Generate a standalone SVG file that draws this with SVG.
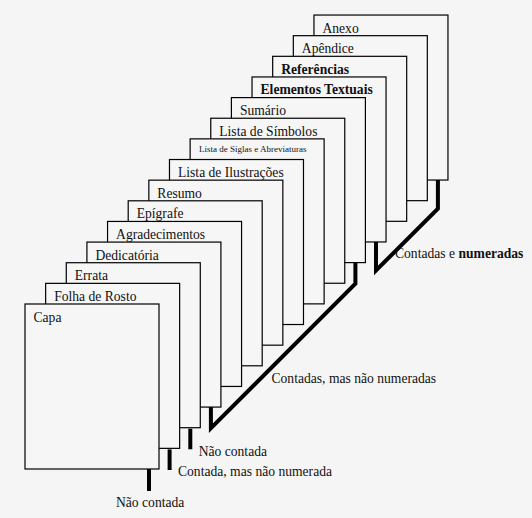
<svg xmlns="http://www.w3.org/2000/svg" width="532" height="518" viewBox="0 0 532 518" font-family="'Liberation Serif', 'DejaVu Serif', serif">
<style>
.pg rect{fill:#f6f6f6;stroke:#000;stroke-width:1.2}
text{font-family:'Liberation Serif','DejaVu Serif',serif;font-size:13.6px;fill:#111}
.b{font-weight:bold}
.sm{font-size:9px}
.th{fill:none;stroke:#000;stroke-width:4;stroke-linejoin:miter}
</style>
<rect width="532" height="518" fill="#f5f5f5"/>
<g id="pages">
<g id="anexo" class="pg" transform="translate(313.96,15.04)"><rect width="134" height="165"/><text x="8.5" y="17.5">Anexo</text></g>
<g id="apendice" class="pg" transform="translate(293.32,35.68)"><rect width="134" height="165"/><text x="8.5" y="17.5">Apêndice</text></g>
<g id="referencias" class="pg" transform="translate(272.68,56.32)"><rect width="134" height="165"/><text x="8.5" y="17.5" class="b">Referências</text></g>
<g id="elementos-textuais" class="pg" transform="translate(252.04,76.96)"><rect width="134" height="165"/><text x="8.5" y="17.5" class="b">Elementos Textuais</text></g>
<g id="sumario" class="pg" transform="translate(231.4,97.6)"><rect width="134" height="165"/><text x="8.5" y="17.5">Sumário</text></g>
<g id="lista-simbolos" class="pg" transform="translate(210.76,118.24)"><rect width="134" height="165"/><text x="8.5" y="17.5">Lista de Símbolos</text></g>
<g id="lista-siglas" class="pg" transform="translate(190.12,138.88)"><rect width="134" height="165"/><text x="9" y="13.5" class="sm">Lista de Siglas e Abreviaturas</text></g>
<g id="lista-ilustracoes" class="pg" transform="translate(169.48,159.52)"><rect width="134" height="165"/><text x="8.5" y="17.5">Lista de Ilustrações</text></g>
<g id="resumo" class="pg" transform="translate(148.84,180.16)"><rect width="134" height="165"/><text x="8.5" y="17.5">Resumo</text></g>
<g id="epigrafe" class="pg" transform="translate(128.2,200.8)"><rect width="134" height="165"/><text x="8.5" y="17.5">Epígrafe</text></g>
<g id="agradecimentos" class="pg" transform="translate(107.56,221.44)"><rect width="134" height="165"/><text x="8.5" y="17.5">Agradecimentos</text></g>
<g id="dedicatoria" class="pg" transform="translate(86.92,242.08)"><rect width="134" height="165"/><text x="8.5" y="17.5">Dedicatória</text></g>
<g id="errata" class="pg" transform="translate(66.28,262.72)"><rect width="134" height="165"/><text x="8.5" y="17.5">Errata</text></g>
<g id="folha-rosto" class="pg" transform="translate(45.64,283.36)"><rect width="134" height="165"/><text x="8.5" y="17.5">Folha de Rosto</text></g>
<g id="capa" class="pg" transform="translate(25,304)"><rect width="134" height="165"/><text x="8.5" y="17.5">Capa</text></g>
</g>
<g id="connectors">
<path class="th" d="M149,469 V491"/>
<path class="th" d="M169.6,449.4 V470"/>
<path class="th" d="M190.3,428.7 V449.3"/>
<path class="th" d="M210.9,407 V428.2 L355.4,283.7 V262.6"/>
<path class="th" d="M376,242 V270.5 L437.9,208.6 V180"/>
</g>
<g id="labels">
<text x="116" y="507">Não contada</text>
<text x="178" y="475.5">Contada, mas não numerada</text>
<text x="198.7" y="455.7">Não contada</text>
<text x="271.5" y="383.3">Contadas, mas não numeradas</text>
<text x="395" y="258">Contadas e <tspan class="b">numeradas</tspan></text>
</g>
</svg>
